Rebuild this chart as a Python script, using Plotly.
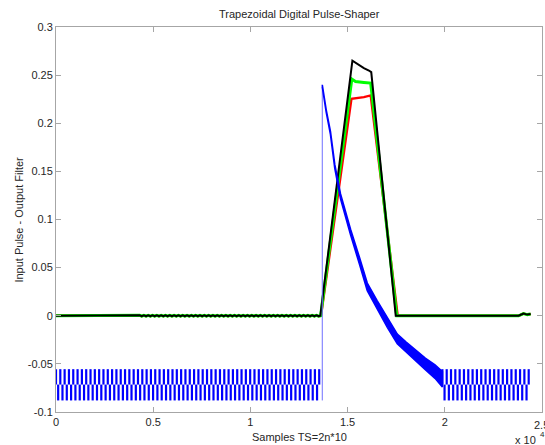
import numpy as np
import plotly.graph_objects as go

# ---------------- data ----------------
# Input pulse (blue): baseline square-wave ripple before and after the pulse
ripple_period = 222            # samples per ripple cycle
ripple_upper = [-0.0555, -0.0715]   # upper bar span
ripple_lower = [-0.0715, -0.088]    # lower bar span
pre_span = [0, 13650]
post_span = [19880, 24350]

# pulse edge
jump_x = 13700
jump_y = [-0.088, 0.239]

# decaying tail of the input pulse: centre and half thickness
decay_x = [13700, 13900, 14120, 14345, 14640, 15155, 15600, 16015, 16530,
           17046, 17560, 18000, 18500, 19000, 19500, 19880]
decay_y = [0.239, 0.213, 0.190, 0.155, 0.124, 0.087, 0.058, 0.030, 0.011,
           -0.007, -0.024, -0.032, -0.041, -0.050, -0.058, -0.066]
decay_half = [0.001, 0.0012, 0.0015, 0.002, 0.0025, 0.003, 0.0035, 0.004, 0.0045,
              0.005, 0.005, 0.005, 0.0055, 0.006, 0.007, 0.008]

# Output filters (trapezoids)
black_x = [0, 13600, 15250, 15500, 15840, 16100, 16220, 17480, 23800, 24050, 24250, 24420]
black_y = [0, 0, 0.265, 0.2617, 0.2573, 0.2548, 0.2531, 0, 0, 0.0022, 0.0012, 0.0018]
green_x = [0, 13615, 15220, 15410, 15840, 16190, 17530, 23800, 24050, 24250, 24420]
green_y = [0, 0, 0.2459, 0.2434, 0.2424, 0.2417, 0, 0, 0.0022, 0.0012, 0.0018]
red_x = [0, 13635, 15200, 15500, 15840, 16190, 17580, 23800, 24050, 24250, 24420]
red_y = [0, 0, 0.2255, 0.2262, 0.2272, 0.2289, 0, 0, 0.0022, 0.0012, 0.0018]

# small ripple on the filter outputs before the pulse
filt_ripple_span = [4300, 13550]
filt_ripple_amp = 0.0005

x_ticks = [0, 5000, 10000, 15000, 20000, 25000]
x_tick_labels = ["0", "0.5", "1", "1.5", "2", "2.5"]
y_ticks = [-0.1, -0.05, 0, 0.05, 0.1, 0.15, 0.2, 0.25, 0.3]
y_tick_labels = ["-0.1", "-0.05", "0", "0.05", "0.1", "0.15", "0.2", "0.25", "0.3"]

# ---------------- build the marks ----------------
def ripple_bars(span):
    xs, ys = [], []
    for x0 in range(span[0], span[1], ripple_period):
        xs += [x0, x0, None]
        ys += [ripple_upper[0], ripple_upper[1], None]
        xh = x0 + ripple_period // 2
        if xh < span[1]:
            xs += [xh, xh, None]
            ys += [ripple_lower[0], ripple_lower[1], None]
    return xs, ys

def with_ripple(xs, ys):
    ox, oy = [xs[0]], [ys[0]]
    sign = 1
    for x0 in range(filt_ripple_span[0], filt_ripple_span[1], ripple_period // 2):
        ox.append(x0)
        oy.append(sign * filt_ripple_amp)
        sign = -sign
    ox += xs[1:]
    oy += ys[1:]
    return ox, oy

fig = go.Figure()

for xs, ys, col, w in [(red_x, red_y, "#ff0000", 2.4),
                       (green_x, green_y, "#00ff00", 3.0),
                       (black_x, black_y, "#000000", 2.0)]:
    rx, ry = with_ripple(xs, ys)
    fig.add_trace(go.Scatter(x=rx, y=ry, mode="lines",
                             line=dict(color=col, width=w), hoverinfo="skip"))

for span in (pre_span, post_span):
    bx, by = ripple_bars(span)
    fig.add_trace(go.Scatter(x=bx, y=by, mode="lines", connectgaps=False,
                             line=dict(color="#0000ff", width=2.2), hoverinfo="skip"))

fig.add_trace(go.Scatter(x=[jump_x, jump_x], y=jump_y, mode="lines",
                         line=dict(color="#6f6fff", width=1), hoverinfo="skip"))

up = [y + h for y, h in zip(decay_y, decay_half)]
lo = [y - h for y, h in zip(decay_y, decay_half)]
fig.add_trace(go.Scatter(x=decay_x + decay_x[::-1], y=up + lo[::-1], mode="lines",
                         fill="toself", fillcolor="#0000ff",
                         line=dict(color="#0000ff", width=1.6), hoverinfo="skip"))

font_main = dict(family="Liberation Sans, Arial, sans-serif", size=11, color="#262626")
font_sup = dict(family="Liberation Sans, Arial, sans-serif", size=8, color="#262626")

axis_common = dict(showline=True, linecolor="#a6a6a6", linewidth=1, mirror="ticks",
                   ticks="inside", ticklen=5, tickcolor="#a6a6a6", showgrid=False,
                   zeroline=False, tickfont=font_main, automargin=False)

# the last x tick label sits on the figure edge; plotly drops it, so draw it as text
shown_x_labels = x_tick_labels[:-1] + [""]

fig.update_layout(
    width=545, height=445,
    margin=dict(l=56, r=3, t=27, b=33),
    paper_bgcolor="white", plot_bgcolor="white",
    showlegend=False,
    xaxis=dict(range=[0, 25005], tickvals=x_ticks, ticktext=shown_x_labels, **axis_common),
    yaxis=dict(range=[-0.1, 0.3], tickvals=y_ticks, ticktext=y_tick_labels, **axis_common),
    annotations=[
        dict(text="Trapezoidal Digital Pulse-Shaper", xref="paper", yref="paper",
             x=0.5, y=1.034, xanchor="center", yanchor="middle", showarrow=False,
             font=font_main),
        dict(text="Samples TS=2n*10", xref="paper", yref="paper",
             x=0.5, y=-0.065, xanchor="center", yanchor="middle", showarrow=False,
             font=font_main),
        dict(text="Input Pulse - Output Filter", xref="paper", yref="paper",
             x=-0.078, y=0.5, xanchor="center", yanchor="middle", showarrow=False,
             textangle=-90, font=font_main),
        dict(text=x_tick_labels[-1], xref="x", yref="paper",
             x=x_ticks[-1], y=-0.033, xanchor="center", yanchor="middle", showarrow=False,
             font=font_main),
        dict(text="x 10", xref="paper", yref="paper",
             x=0.992, y=-0.072, xanchor="right", yanchor="middle", showarrow=False,
             font=font_main),
        dict(text="4", xref="paper", yref="paper",
             x=0.992, y=-0.058, xanchor="left", yanchor="middle", showarrow=False,
             font=font_sup),
    ],
)

fig.write_html(
    "out.html",
    config={"displayModeBar": False},
    post_script="document.body.style.margin='0';document.body.style.overflow='hidden';",
)
